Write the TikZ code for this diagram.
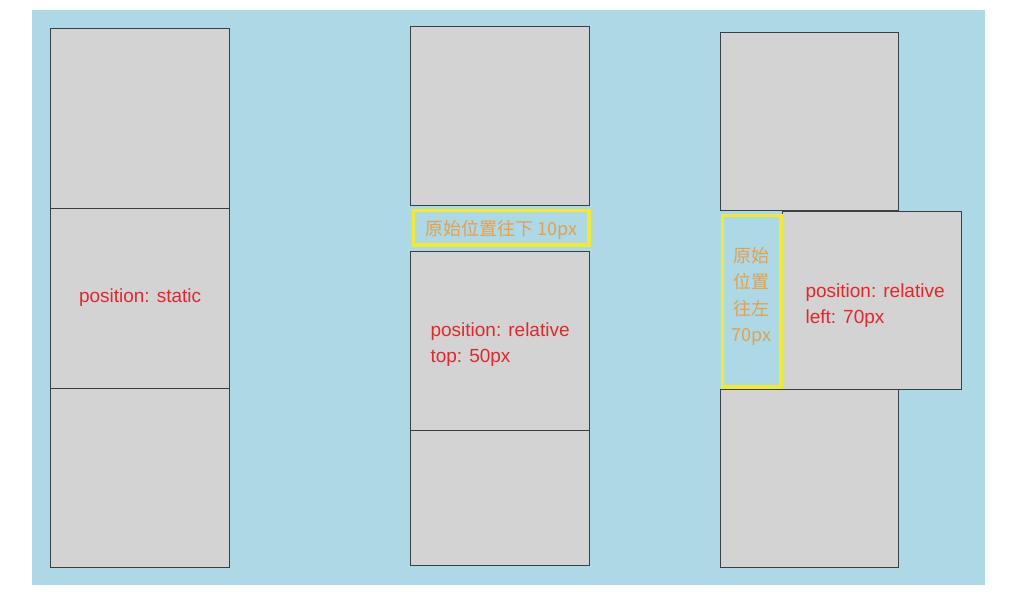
\documentclass[tikz,border=0pt]{standalone}
\usepackage{fontspec}
\setmainfont{Liberation Sans}
\newfontfamily\cjk{Noto Sans CJK SC}
\definecolor{skyblue}{HTML}{ADD8E6}
\definecolor{boxgray}{HTML}{D3D3D3}
\definecolor{boxline}{HTML}{3A3F45}
\definecolor{ghostline}{HTML}{F2EA2A}
\definecolor{labelred}{HTML}{E5262B}
\definecolor{labelorange}{HTML}{E8A048}

\begin{document}
\begin{tikzpicture}[x=1pt, y=-1pt,
  block/.style={draw=boxline, fill=boxgray, line width=1.2pt, inner sep=0pt, anchor=north west},
  ghost/.style={draw=ghostline, line width=3.5pt, inner sep=0pt, anchor=north west},
  redtext/.style={text=labelred, align=left, font=\fontsize{19}{26}\selectfont},
  orangetext/.style={text=labelorange, align=center, font=\cjk\fontsize{18}{26.5}\selectfont}]

% The page
\useasboundingbox (0,0) rectangle (1024,610);
\fill[white] (0,0) rectangle (1024,610);
\fill[skyblue] (32,10) rectangle (985,585);

% position: static
\node[block, minimum width=179pt, minimum height=180pt] (s1) at (50,28) {};
\node[block, minimum width=179pt, minimum height=180pt] (s2) at (50,208) {};
\node[block, minimum width=179pt, minimum height=179pt] (s3) at (50,388) {};
\node[redtext] (slabel) at ([yshift=1pt]s2.center) {position: static};

% position: relative, top
\node[block, minimum width=179pt, minimum height=179pt] (r1) at (410,26) {};
\node[ghost, minimum width=175.5pt, minimum height=34.5pt] (g1) at (411.75,208.75) {};
\node[block, minimum width=179pt, minimum height=179pt] (r2) at (410,251) {};
\node[block, minimum width=179pt, minimum height=135pt] (r3) at (410,430) {};
\node[orangetext] (g1label) at ([yshift=-2pt]g1.center) {原始位置往下 10px};
\node[redtext] (rlabel) at ([yshift=-3pt]r2.center) {position: relative\\top: 50px};

% position: relative, left
\node[block, minimum width=178pt, minimum height=178pt] (t1) at (720,32) {};
\node[block, minimum width=179pt, minimum height=178pt] (t2) at (782,211) {};
\node[block, minimum width=178pt, minimum height=178pt] (t3) at (720,389) {};
\node[ghost, minimum width=58.5pt, minimum height=171.5pt] (g2) at (720.75,213.75) {};
\node[orangetext] (g2label) at ([yshift=5pt]g2.center) {原始\\位置\\往左\\70px};
\node[redtext] (tlabel) at ([xshift=3pt,yshift=-5pt]t2.center) {position: relative\\left: 70px};

\end{tikzpicture}
\end{document}
